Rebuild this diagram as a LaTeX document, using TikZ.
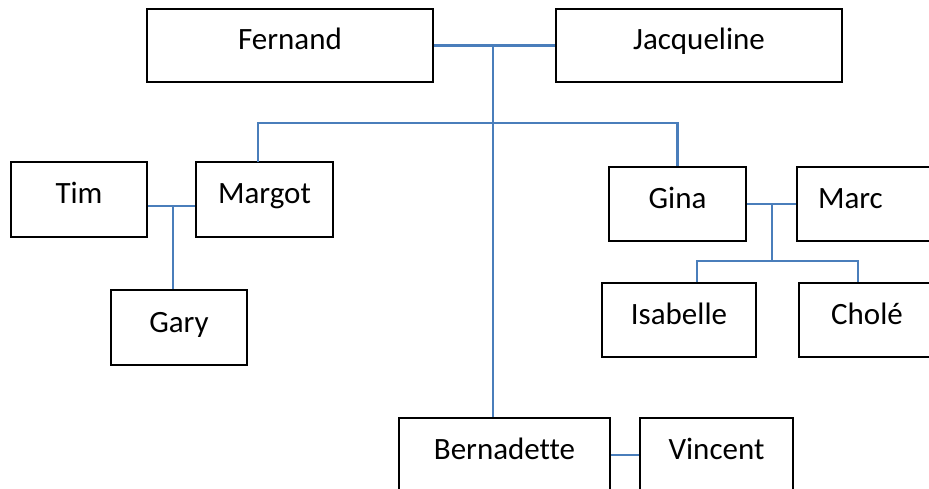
\documentclass[tikz,border=0pt]{standalone}
\usepackage{fontspec}
\setmainfont{Carlito}[Ligatures={NoCommon}]
\begin{document}
\begin{tikzpicture}[x=1pt,y=-1pt,
  person/.style={draw=black, line width=1.5pt, rectangle, inner sep=0pt,
    font=\fontsize{31}{37}\selectfont, text height=22pt, text depth=13pt},
  link/.style={draw=linkblue, line width=2.2pt}]
\definecolor{linkblue}{HTML}{4A7EBB}
\useasboundingbox (0,0) rectangle (929,489);
\clip (0,0) rectangle (929,489);
\fill[white] (0,0) rectangle (929,489);
% people
\node[person, minimum width=286pt, minimum height=73pt] (fernand) at (290,45.5) {Fernand};
\node[person, minimum width=286pt, minimum height=73pt] (jacq) at (699,45.5) {Jacqueline};
\node[person, minimum width=136pt, minimum height=75pt] (tim) at (79,199.5) {Tim};
\node[person, minimum width=137pt, minimum height=75pt] (margot) at (264.5,199.5) {Margot};
\node[person, minimum width=136pt, minimum height=75pt] (gary) at (179,327.5) {Gary};
\node[person, minimum width=137pt, minimum height=74pt] (gina) at (677.5,204) {Gina};
\node[person, minimum width=137pt, minimum height=74pt] (marc) at (865.5,204) {\makebox[95pt][l]{Marc}};
\node[person, minimum width=154pt, minimum height=74pt] (isab) at (679,320) {Isabelle};
\node[person, minimum width=136pt, minimum height=74pt] (chole) at (867,320) {Cholé};
\node[person, minimum width=211pt, minimum height=74pt] (bern) at (504.5,455) {Bernadette};
\node[person, minimum width=153pt, minimum height=74pt] (vinc) at (716.5,455) {Vincent};
% junction points
\coordinate (fj) at (493,45.5);
\coordinate (br) at (493,123);
\coordinate (mtop) at (258,162);
\coordinate (tm) at (173,206);
\coordinate (gm) at (772,204);
\coordinate (gk) at (772,261);
\coordinate (isj) at (697,261);
\coordinate (chj) at (858,261);
% connectors
\draw[link] (fernand.east) -- (jacq.west);
\draw[link] (fj) -- (fj |- bern.north);
\draw[link] (mtop) |- (br) -| (gina.north);
\draw[link] (tim.east |- tm) -- (margot.west |- tm);
\draw[link] (tm) -- (tm |- gary.north);
\draw[link] (gina.east) -- (marc.west);
\draw[link] (gm) -- (gk);
\draw[link] (isj |- isab.north) -- (isj) -- (chj) -- (chj |- chole.north);
\draw[link] (bern.east) -- (vinc.west);
\end{tikzpicture}
\end{document}
